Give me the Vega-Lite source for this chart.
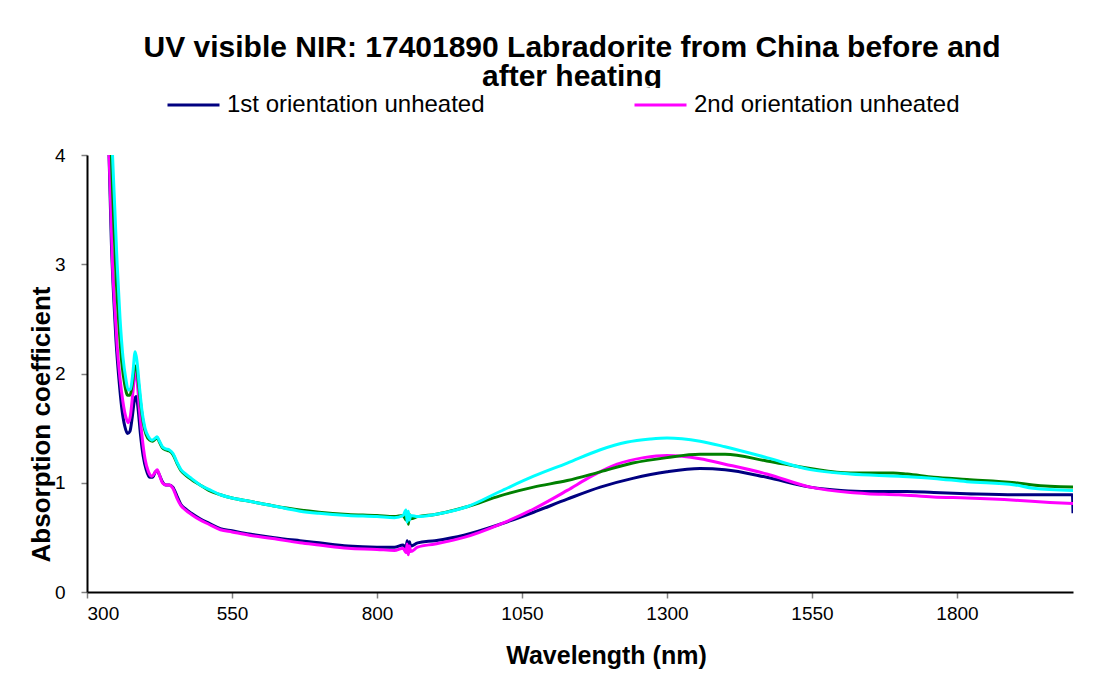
{
  "$schema": "https://vega.github.io/schema/vega-lite/v6.json",
  "width": 986,
  "height": 437,
  "autosize": {"type": "none"},
  "padding": {"left": 87, "top": 155, "right": 29, "bottom": 93},
  "background": "white",
  "title": {
    "text": ["UV visible NIR: 17401890 Labradorite from China before and", "after heating"],
    "font": "Liberation Sans",
    "fontSize": 30,
    "fontWeight": "bold",
    "color": "black",
    "anchor": "middle",
    "frame": "group",
    "dx": -8,
    "offset": -4,
    "lineHeight": 29,
    "zindex": 0
  },
  "data": {
    "values": [
      {"series": "1st orientation unheated", "nm": 330, "abs": 5.5},
      {"series": "1st orientation unheated", "nm": 335, "abs": 4.5},
      {"series": "1st orientation unheated", "nm": 338, "abs": 4.0},
      {"series": "1st orientation unheated", "nm": 342, "abs": 3.2},
      {"series": "1st orientation unheated", "nm": 346, "abs": 2.7},
      {"series": "1st orientation unheated", "nm": 350, "abs": 2.3},
      {"series": "1st orientation unheated", "nm": 355, "abs": 1.95},
      {"series": "1st orientation unheated", "nm": 360, "abs": 1.68},
      {"series": "1st orientation unheated", "nm": 365, "abs": 1.52},
      {"series": "1st orientation unheated", "nm": 370, "abs": 1.45},
      {"series": "1st orientation unheated", "nm": 374, "abs": 1.47},
      {"series": "1st orientation unheated", "nm": 378, "abs": 1.6},
      {"series": "1st orientation unheated", "nm": 382, "abs": 1.76},
      {"series": "1st orientation unheated", "nm": 385, "abs": 1.79},
      {"series": "1st orientation unheated", "nm": 388, "abs": 1.68},
      {"series": "1st orientation unheated", "nm": 392, "abs": 1.45},
      {"series": "1st orientation unheated", "nm": 397, "abs": 1.24},
      {"series": "1st orientation unheated", "nm": 402, "abs": 1.12},
      {"series": "1st orientation unheated", "nm": 408, "abs": 1.05},
      {"series": "1st orientation unheated", "nm": 413, "abs": 1.05},
      {"series": "1st orientation unheated", "nm": 418, "abs": 1.1},
      {"series": "1st orientation unheated", "nm": 421, "abs": 1.11},
      {"series": "1st orientation unheated", "nm": 425, "abs": 1.07},
      {"series": "1st orientation unheated", "nm": 430, "abs": 1.01},
      {"series": "1st orientation unheated", "nm": 436, "abs": 0.98},
      {"series": "1st orientation unheated", "nm": 442, "abs": 0.98},
      {"series": "1st orientation unheated", "nm": 448, "abs": 0.96},
      {"series": "1st orientation unheated", "nm": 455, "abs": 0.88},
      {"series": "1st orientation unheated", "nm": 462, "abs": 0.8},
      {"series": "1st orientation unheated", "nm": 470, "abs": 0.76},
      {"series": "1st orientation unheated", "nm": 480, "abs": 0.72},
      {"series": "1st orientation unheated", "nm": 495, "abs": 0.67},
      {"series": "1st orientation unheated", "nm": 510, "abs": 0.63},
      {"series": "1st orientation unheated", "nm": 530, "abs": 0.58},
      {"series": "1st orientation unheated", "nm": 550, "abs": 0.56},
      {"series": "1st orientation unheated", "nm": 580, "abs": 0.53},
      {"series": "1st orientation unheated", "nm": 620, "abs": 0.5},
      {"series": "1st orientation unheated", "nm": 667, "abs": 0.47},
      {"series": "1st orientation unheated", "nm": 700, "abs": 0.45},
      {"series": "1st orientation unheated", "nm": 750, "abs": 0.42},
      {"series": "1st orientation unheated", "nm": 800, "abs": 0.41},
      {"series": "1st orientation unheated", "nm": 830, "abs": 0.41},
      {"series": "1st orientation unheated", "nm": 845, "abs": 0.43},
      {"series": "1st orientation unheated", "nm": 850, "abs": 0.4},
      {"series": "1st orientation unheated", "nm": 852, "abs": 0.47},
      {"series": "1st orientation unheated", "nm": 854, "abs": 0.39},
      {"series": "1st orientation unheated", "nm": 856, "abs": 0.46},
      {"series": "1st orientation unheated", "nm": 858, "abs": 0.42},
      {"series": "1st orientation unheated", "nm": 870, "abs": 0.45},
      {"series": "1st orientation unheated", "nm": 900, "abs": 0.47},
      {"series": "1st orientation unheated", "nm": 950, "abs": 0.52},
      {"series": "1st orientation unheated", "nm": 1012, "abs": 0.62},
      {"series": "1st orientation unheated", "nm": 1070, "abs": 0.73},
      {"series": "1st orientation unheated", "nm": 1128, "abs": 0.85},
      {"series": "1st orientation unheated", "nm": 1185, "abs": 0.96},
      {"series": "1st orientation unheated", "nm": 1241, "abs": 1.04},
      {"series": "1st orientation unheated", "nm": 1300, "abs": 1.1},
      {"series": "1st orientation unheated", "nm": 1357, "abs": 1.13},
      {"series": "1st orientation unheated", "nm": 1400, "abs": 1.12},
      {"series": "1st orientation unheated", "nm": 1472, "abs": 1.05},
      {"series": "1st orientation unheated", "nm": 1547, "abs": 0.96},
      {"series": "1st orientation unheated", "nm": 1600, "abs": 0.93},
      {"series": "1st orientation unheated", "nm": 1645, "abs": 0.92},
      {"series": "1st orientation unheated", "nm": 1714, "abs": 0.92},
      {"series": "1st orientation unheated", "nm": 1760, "abs": 0.91},
      {"series": "1st orientation unheated", "nm": 1817, "abs": 0.9},
      {"series": "1st orientation unheated", "nm": 1900, "abs": 0.89},
      {"series": "1st orientation unheated", "nm": 1990, "abs": 0.89},
      {"series": "1st orientation unheated", "nm": 1999, "abs": 0.89},
      {"series": "1st orientation unheated", "nm": 2000, "abs": 0.72},

      {"series": "2nd orientation unheated", "nm": 330, "abs": 5.0},
      {"series": "2nd orientation unheated", "nm": 336, "abs": 4.3},
      {"series": "2nd orientation unheated", "nm": 340, "abs": 3.7},
      {"series": "2nd orientation unheated", "nm": 344, "abs": 3.0},
      {"series": "2nd orientation unheated", "nm": 348, "abs": 2.6},
      {"series": "2nd orientation unheated", "nm": 352, "abs": 2.25},
      {"series": "2nd orientation unheated", "nm": 357, "abs": 1.95},
      {"series": "2nd orientation unheated", "nm": 362, "abs": 1.74},
      {"series": "2nd orientation unheated", "nm": 367, "abs": 1.6},
      {"series": "2nd orientation unheated", "nm": 371, "abs": 1.55},
      {"series": "2nd orientation unheated", "nm": 375, "abs": 1.62},
      {"series": "2nd orientation unheated", "nm": 379, "abs": 1.82},
      {"series": "2nd orientation unheated", "nm": 383, "abs": 2.02},
      {"series": "2nd orientation unheated", "nm": 386, "abs": 1.95},
      {"series": "2nd orientation unheated", "nm": 390, "abs": 1.7},
      {"series": "2nd orientation unheated", "nm": 395, "abs": 1.42},
      {"series": "2nd orientation unheated", "nm": 400, "abs": 1.22},
      {"series": "2nd orientation unheated", "nm": 406, "abs": 1.1},
      {"series": "2nd orientation unheated", "nm": 412, "abs": 1.06},
      {"series": "2nd orientation unheated", "nm": 418, "abs": 1.1},
      {"series": "2nd orientation unheated", "nm": 421, "abs": 1.12},
      {"series": "2nd orientation unheated", "nm": 425, "abs": 1.07},
      {"series": "2nd orientation unheated", "nm": 430, "abs": 1.0},
      {"series": "2nd orientation unheated", "nm": 436, "abs": 0.98},
      {"series": "2nd orientation unheated", "nm": 442, "abs": 0.98},
      {"series": "2nd orientation unheated", "nm": 448, "abs": 0.95},
      {"series": "2nd orientation unheated", "nm": 455, "abs": 0.86},
      {"series": "2nd orientation unheated", "nm": 462, "abs": 0.79},
      {"series": "2nd orientation unheated", "nm": 470, "abs": 0.75},
      {"series": "2nd orientation unheated", "nm": 480, "abs": 0.71},
      {"series": "2nd orientation unheated", "nm": 495, "abs": 0.66},
      {"series": "2nd orientation unheated", "nm": 510, "abs": 0.62},
      {"series": "2nd orientation unheated", "nm": 530, "abs": 0.57},
      {"series": "2nd orientation unheated", "nm": 550, "abs": 0.55},
      {"series": "2nd orientation unheated", "nm": 580, "abs": 0.52},
      {"series": "2nd orientation unheated", "nm": 620, "abs": 0.49},
      {"series": "2nd orientation unheated", "nm": 667, "abs": 0.45},
      {"series": "2nd orientation unheated", "nm": 700, "abs": 0.43},
      {"series": "2nd orientation unheated", "nm": 750, "abs": 0.4},
      {"series": "2nd orientation unheated", "nm": 800, "abs": 0.39},
      {"series": "2nd orientation unheated", "nm": 830, "abs": 0.38},
      {"series": "2nd orientation unheated", "nm": 845, "abs": 0.4},
      {"series": "2nd orientation unheated", "nm": 850, "abs": 0.36},
      {"series": "2nd orientation unheated", "nm": 852, "abs": 0.44},
      {"series": "2nd orientation unheated", "nm": 854, "abs": 0.34},
      {"series": "2nd orientation unheated", "nm": 856, "abs": 0.42},
      {"series": "2nd orientation unheated", "nm": 858, "abs": 0.37},
      {"series": "2nd orientation unheated", "nm": 870, "abs": 0.41},
      {"series": "2nd orientation unheated", "nm": 900, "abs": 0.44},
      {"series": "2nd orientation unheated", "nm": 950, "abs": 0.5},
      {"series": "2nd orientation unheated", "nm": 1012, "abs": 0.62},
      {"series": "2nd orientation unheated", "nm": 1070, "abs": 0.76},
      {"series": "2nd orientation unheated", "nm": 1128, "abs": 0.93},
      {"series": "2nd orientation unheated", "nm": 1170, "abs": 1.06},
      {"series": "2nd orientation unheated", "nm": 1214, "abs": 1.17},
      {"series": "2nd orientation unheated", "nm": 1260, "abs": 1.23},
      {"series": "2nd orientation unheated", "nm": 1300, "abs": 1.25},
      {"series": "2nd orientation unheated", "nm": 1357, "abs": 1.22},
      {"series": "2nd orientation unheated", "nm": 1400, "abs": 1.17},
      {"series": "2nd orientation unheated", "nm": 1472, "abs": 1.08},
      {"series": "2nd orientation unheated", "nm": 1547, "abs": 0.96},
      {"series": "2nd orientation unheated", "nm": 1616, "abs": 0.91},
      {"series": "2nd orientation unheated", "nm": 1645, "abs": 0.9},
      {"series": "2nd orientation unheated", "nm": 1700, "abs": 0.89},
      {"series": "2nd orientation unheated", "nm": 1759, "abs": 0.87},
      {"series": "2nd orientation unheated", "nm": 1817, "abs": 0.86},
      {"series": "2nd orientation unheated", "nm": 1900, "abs": 0.84},
      {"series": "2nd orientation unheated", "nm": 1960, "abs": 0.82},
      {"series": "2nd orientation unheated", "nm": 2000, "abs": 0.81},

      {"series": "1st orientation heated", "nm": 332, "abs": 5.5},
      {"series": "1st orientation heated", "nm": 338, "abs": 4.6},
      {"series": "1st orientation heated", "nm": 342, "abs": 4.0},
      {"series": "1st orientation heated", "nm": 346, "abs": 3.4},
      {"series": "1st orientation heated", "nm": 350, "abs": 2.9},
      {"series": "1st orientation heated", "nm": 355, "abs": 2.45},
      {"series": "1st orientation heated", "nm": 360, "abs": 2.1},
      {"series": "1st orientation heated", "nm": 365, "abs": 1.9},
      {"series": "1st orientation heated", "nm": 370, "abs": 1.8},
      {"series": "1st orientation heated", "nm": 374, "abs": 1.8},
      {"series": "1st orientation heated", "nm": 378, "abs": 1.9},
      {"series": "1st orientation heated", "nm": 382, "abs": 2.05},
      {"series": "1st orientation heated", "nm": 385, "abs": 2.07},
      {"series": "1st orientation heated", "nm": 388, "abs": 1.95},
      {"series": "1st orientation heated", "nm": 392, "abs": 1.75},
      {"series": "1st orientation heated", "nm": 397, "abs": 1.55},
      {"series": "1st orientation heated", "nm": 402, "abs": 1.44},
      {"series": "1st orientation heated", "nm": 408, "abs": 1.39},
      {"series": "1st orientation heated", "nm": 413, "abs": 1.38},
      {"series": "1st orientation heated", "nm": 418, "abs": 1.4},
      {"series": "1st orientation heated", "nm": 421, "abs": 1.41},
      {"series": "1st orientation heated", "nm": 425, "abs": 1.37},
      {"series": "1st orientation heated", "nm": 430, "abs": 1.32},
      {"series": "1st orientation heated", "nm": 436, "abs": 1.3},
      {"series": "1st orientation heated", "nm": 442, "abs": 1.29},
      {"series": "1st orientation heated", "nm": 448, "abs": 1.26},
      {"series": "1st orientation heated", "nm": 455, "abs": 1.18},
      {"series": "1st orientation heated", "nm": 462, "abs": 1.11},
      {"series": "1st orientation heated", "nm": 470, "abs": 1.07},
      {"series": "1st orientation heated", "nm": 480, "abs": 1.03},
      {"series": "1st orientation heated", "nm": 495, "abs": 0.98},
      {"series": "1st orientation heated", "nm": 510, "abs": 0.93},
      {"series": "1st orientation heated", "nm": 530, "abs": 0.89},
      {"series": "1st orientation heated", "nm": 550, "abs": 0.86},
      {"series": "1st orientation heated", "nm": 580, "abs": 0.83},
      {"series": "1st orientation heated", "nm": 620, "abs": 0.79},
      {"series": "1st orientation heated", "nm": 667, "abs": 0.75},
      {"series": "1st orientation heated", "nm": 700, "abs": 0.73},
      {"series": "1st orientation heated", "nm": 750, "abs": 0.71},
      {"series": "1st orientation heated", "nm": 800, "abs": 0.7},
      {"series": "1st orientation heated", "nm": 830, "abs": 0.69},
      {"series": "1st orientation heated", "nm": 845, "abs": 0.7},
      {"series": "1st orientation heated", "nm": 850, "abs": 0.66},
      {"series": "1st orientation heated", "nm": 852, "abs": 0.73},
      {"series": "1st orientation heated", "nm": 854, "abs": 0.62},
      {"series": "1st orientation heated", "nm": 856, "abs": 0.71},
      {"series": "1st orientation heated", "nm": 858, "abs": 0.67},
      {"series": "1st orientation heated", "nm": 870, "abs": 0.69},
      {"series": "1st orientation heated", "nm": 900, "abs": 0.71},
      {"series": "1st orientation heated", "nm": 955, "abs": 0.78},
      {"series": "1st orientation heated", "nm": 1012, "abs": 0.88},
      {"series": "1st orientation heated", "nm": 1070, "abs": 0.96},
      {"series": "1st orientation heated", "nm": 1128, "abs": 1.02},
      {"series": "1st orientation heated", "nm": 1185, "abs": 1.1},
      {"series": "1st orientation heated", "nm": 1241, "abs": 1.18},
      {"series": "1st orientation heated", "nm": 1300, "abs": 1.23},
      {"series": "1st orientation heated", "nm": 1357, "abs": 1.26},
      {"series": "1st orientation heated", "nm": 1400, "abs": 1.26},
      {"series": "1st orientation heated", "nm": 1472, "abs": 1.2},
      {"series": "1st orientation heated", "nm": 1547, "abs": 1.13},
      {"series": "1st orientation heated", "nm": 1616, "abs": 1.09},
      {"series": "1st orientation heated", "nm": 1690, "abs": 1.09},
      {"series": "1st orientation heated", "nm": 1714, "abs": 1.08},
      {"series": "1st orientation heated", "nm": 1760, "abs": 1.05},
      {"series": "1st orientation heated", "nm": 1817, "abs": 1.03},
      {"series": "1st orientation heated", "nm": 1900, "abs": 1.0},
      {"series": "1st orientation heated", "nm": 1931, "abs": 0.98},
      {"series": "1st orientation heated", "nm": 2000, "abs": 0.96},

      {"series": "2nd orientation heated", "nm": 334, "abs": 5.5},
      {"series": "2nd orientation heated", "nm": 340, "abs": 4.6},
      {"series": "2nd orientation heated", "nm": 344, "abs": 4.0},
      {"series": "2nd orientation heated", "nm": 348, "abs": 3.5},
      {"series": "2nd orientation heated", "nm": 352, "abs": 3.0},
      {"series": "2nd orientation heated", "nm": 357, "abs": 2.5},
      {"series": "2nd orientation heated", "nm": 362, "abs": 2.15},
      {"series": "2nd orientation heated", "nm": 367, "abs": 1.95},
      {"series": "2nd orientation heated", "nm": 371, "abs": 1.85},
      {"series": "2nd orientation heated", "nm": 375, "abs": 1.86},
      {"series": "2nd orientation heated", "nm": 379, "abs": 2.0},
      {"series": "2nd orientation heated", "nm": 383, "abs": 2.2},
      {"series": "2nd orientation heated", "nm": 386, "abs": 2.12},
      {"series": "2nd orientation heated", "nm": 390, "abs": 1.9},
      {"series": "2nd orientation heated", "nm": 395, "abs": 1.65},
      {"series": "2nd orientation heated", "nm": 400, "abs": 1.5},
      {"series": "2nd orientation heated", "nm": 406, "abs": 1.42},
      {"series": "2nd orientation heated", "nm": 412, "abs": 1.39},
      {"series": "2nd orientation heated", "nm": 418, "abs": 1.41},
      {"series": "2nd orientation heated", "nm": 421, "abs": 1.42},
      {"series": "2nd orientation heated", "nm": 425, "abs": 1.38},
      {"series": "2nd orientation heated", "nm": 430, "abs": 1.33},
      {"series": "2nd orientation heated", "nm": 436, "abs": 1.31},
      {"series": "2nd orientation heated", "nm": 442, "abs": 1.3},
      {"series": "2nd orientation heated", "nm": 448, "abs": 1.27},
      {"series": "2nd orientation heated", "nm": 455, "abs": 1.19},
      {"series": "2nd orientation heated", "nm": 462, "abs": 1.12},
      {"series": "2nd orientation heated", "nm": 470, "abs": 1.08},
      {"series": "2nd orientation heated", "nm": 480, "abs": 1.04},
      {"series": "2nd orientation heated", "nm": 495, "abs": 0.98},
      {"series": "2nd orientation heated", "nm": 510, "abs": 0.94},
      {"series": "2nd orientation heated", "nm": 530, "abs": 0.89},
      {"series": "2nd orientation heated", "nm": 550, "abs": 0.86},
      {"series": "2nd orientation heated", "nm": 580, "abs": 0.83},
      {"series": "2nd orientation heated", "nm": 620, "abs": 0.79},
      {"series": "2nd orientation heated", "nm": 667, "abs": 0.74},
      {"series": "2nd orientation heated", "nm": 700, "abs": 0.72},
      {"series": "2nd orientation heated", "nm": 750, "abs": 0.7},
      {"series": "2nd orientation heated", "nm": 800, "abs": 0.69},
      {"series": "2nd orientation heated", "nm": 830, "abs": 0.68},
      {"series": "2nd orientation heated", "nm": 845, "abs": 0.7},
      {"series": "2nd orientation heated", "nm": 850, "abs": 0.75},
      {"series": "2nd orientation heated", "nm": 852, "abs": 0.64},
      {"series": "2nd orientation heated", "nm": 854, "abs": 0.74},
      {"series": "2nd orientation heated", "nm": 856, "abs": 0.66},
      {"series": "2nd orientation heated", "nm": 858, "abs": 0.7},
      {"series": "2nd orientation heated", "nm": 870, "abs": 0.69},
      {"series": "2nd orientation heated", "nm": 900, "abs": 0.71},
      {"series": "2nd orientation heated", "nm": 955, "abs": 0.78},
      {"series": "2nd orientation heated", "nm": 1012, "abs": 0.92},
      {"series": "2nd orientation heated", "nm": 1070, "abs": 1.06},
      {"series": "2nd orientation heated", "nm": 1128, "abs": 1.18},
      {"series": "2nd orientation heated", "nm": 1184, "abs": 1.3},
      {"series": "2nd orientation heated", "nm": 1230, "abs": 1.37},
      {"series": "2nd orientation heated", "nm": 1271, "abs": 1.4},
      {"series": "2nd orientation heated", "nm": 1300, "abs": 1.41},
      {"series": "2nd orientation heated", "nm": 1357, "abs": 1.38},
      {"series": "2nd orientation heated", "nm": 1400, "abs": 1.33},
      {"series": "2nd orientation heated", "nm": 1472, "abs": 1.23},
      {"series": "2nd orientation heated", "nm": 1547, "abs": 1.12},
      {"series": "2nd orientation heated", "nm": 1616, "abs": 1.08},
      {"series": "2nd orientation heated", "nm": 1700, "abs": 1.06},
      {"series": "2nd orientation heated", "nm": 1760, "abs": 1.04},
      {"series": "2nd orientation heated", "nm": 1817, "abs": 1.01},
      {"series": "2nd orientation heated", "nm": 1900, "abs": 0.98},
      {"series": "2nd orientation heated", "nm": 1931, "abs": 0.95},
      {"series": "2nd orientation heated", "nm": 2000, "abs": 0.93}
    ]
  },
  "mark": {"type": "line", "strokeWidth": 3, "interpolate": "monotone", "clip": true},
  "encoding": {
    "x": {
      "field": "nm",
      "type": "quantitative",
      "scale": {"domain": [300, 2000], "nice": false, "zero": false},
      "axis": {
        "title": "Wavelength (nm)",
        "format": "d",
        "values": [300, 550, 800, 1050, 1300, 1550, 1800],
        "grid": false,
        "domainColor": "black",
        "domainWidth": 2,
        "tickColor": "#808080",
        "tickWidth": 1.5,
        "tickSize": 6,
        "labelFont": "Liberation Sans",
        "labelFontSize": 19,
        "labelColor": "black",
        "labelPadding": 6,
        "titleFont": "Liberation Sans",
        "titleFontSize": 25,
        "titleFontWeight": "bold",
        "titleColor": "black",
        "titlePadding": 20,
        "titleX": 519
      }
    },
    "y": {
      "field": "abs",
      "type": "quantitative",
      "scale": {"domain": [0, 4], "nice": false},
      "axis": {
        "title": "Absorption coefficient",
        "values": [0, 1, 2, 3, 4],
        "grid": false,
        "domainColor": "black",
        "domainWidth": 2,
        "tickColor": "#808080",
        "tickWidth": 1.5,
        "tickSize": 6,
        "labelFont": "Liberation Sans",
        "labelFontSize": 19,
        "labelColor": "black",
        "labelPadding": 16,
        "titleFont": "Liberation Sans",
        "titleFontSize": 26,
        "titleFontWeight": "bold",
        "titleColor": "black",
        "titlePadding": 0,
        "titleY": 269
      }
    },
    "color": {
      "field": "series",
      "type": "nominal",
      "scale": {
        "domain": ["1st orientation unheated", "2nd orientation unheated", "1st orientation heated", "2nd orientation heated"],
        "range": ["#000080", "#FF00FF", "#008000", "#00FFFF"]
      },
      "legend": {
        "orient": "none",
        "legendX": 75,
        "legendY": -67,
        "direction": "horizontal",
        "values": ["1st orientation unheated", "2nd orientation unheated"],
        "title": null,
        "symbolType": "stroke",
        "symbolSize": 2704,
        "symbolStrokeWidth": 3,
        "clipHeight": 26,
        "labelFont": "Liberation Sans",
        "labelFontSize": 24,
        "labelColor": "black",
        "labelOffset": 6,
        "labelLimit": 400,
        "columnPadding": 148,
        "padding": 4,
        "fillColor": "white",
        "zindex": 1
      }
    }
  },
  "config": {
    "view": {"stroke": null}
  }
}
